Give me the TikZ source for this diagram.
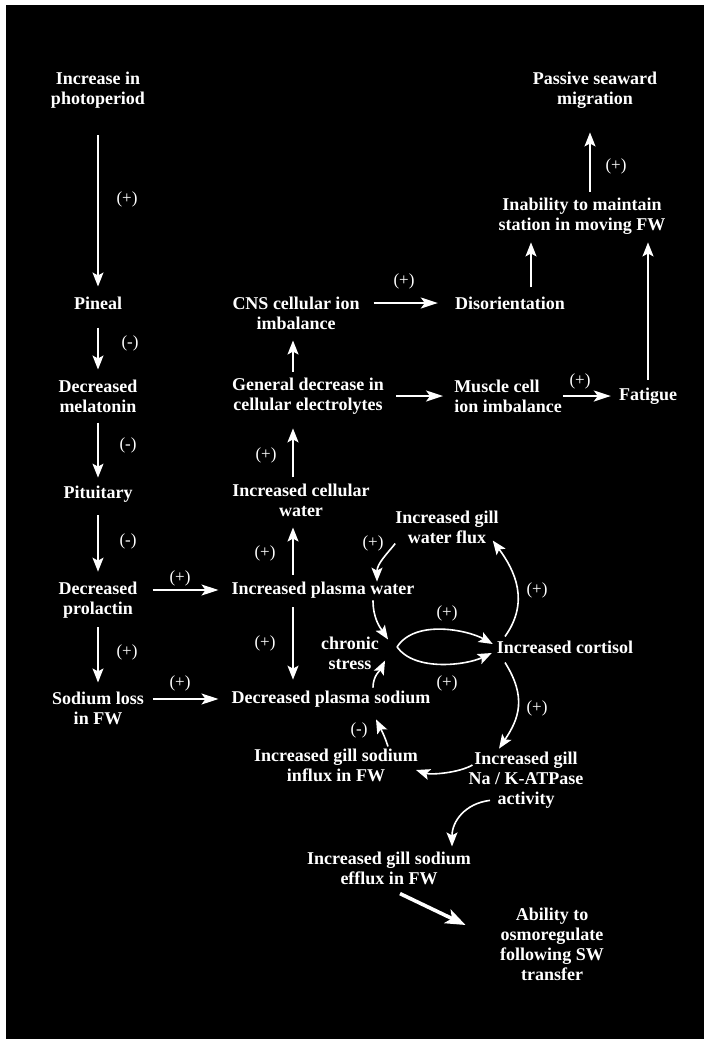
\documentclass[tikz,border=0pt]{standalone}
\usepackage{fontspec}
\setmainfont{Liberation Serif}
\usetikzlibrary{arrows.meta}

\begin{document}
\begin{tikzpicture}[
  x=1pt, y=-1pt,
  font=\bfseries\fontsize{18}{20}\selectfont,
  stage/.style={text=white, align=center, inner sep=0pt},
  sign/.style={text=white, inner sep=0pt, font=\fontsize{17}{20}\selectfont},
  flow/.style={-{Stealth[length=14pt,width=11pt,inset=3pt]}, draw=white, line width=1.6pt},
  thinflow/.style={flow, line width=1.2pt},
  sideflow/.style={-{Stealth[length=17pt,width=11pt,inset=4pt]}, draw=white, line width=1.8pt},
  bigflow/.style={-{Stealth[length=20pt,width=15pt,inset=5pt]}, draw=white, line width=3.6pt}
]
  \useasboundingbox (0,0) rectangle (704,1039);
  \fill[white] (0,0) rectangle (704,1039);
  \fill[black] (6,5) rectangle (704,1039);

  % left column
  \node[stage] (photo) at (98,90) {Increase in\\photoperiod};
  \node[stage] (pineal) at (98,303) {Pineal};
  \node[stage] (melat) at (98,396) {Decreased\\melatonin};
  \node[stage] (pitu) at (98,494) {Pituitary};
  \node[stage] (prol) at (98,600) {Decreased\\prolactin};
  \node[stage] (sodloss) at (98,708) {Sodium loss\\in FW};

  % middle column
  \node[stage] (cns) at (296,313) {CNS cellular ion\\imbalance};
  \node[stage] (general) at (308,396) {General decrease in\\cellular electrolytes};
  \node[stage] (cellw) at (301,500) {Increased cellular\\water};
  \node[stage] (plw) at (323,590) {Increased plasma water};
  \node[stage] (stress) at (350,653) {chronic\\stress};
  \node[stage] (pls) at (331,699) {Decreased plasma sodium};
  \node[stage] (influx) at (336,765) {Increased gill sodium\\influx in FW};
  \node[stage] (efflux) at (389,868) {Increased gill sodium\\efflux in FW};

  % right side
  \node[stage] (passive) at (595,90) {Passive seaward\\migration};
  \node[stage] (inab) at (582,216) {Inability to maintain\\station in moving FW};
  \node[stage] (disor) at (510,303) {Disorientation};
  \node[stage,align=left] (muscle) at (508,396) {Muscle cell\\ion imbalance};
  \node[stage] (fatigue) at (648,396) {Fatigue};
  \node[stage] (gillw) at (447,527) {Increased gill\\water flux};
  \node[stage] (cort) at (565,647) {Increased cortisol};
  \node[stage] (atpase) at (526,780) {Increased gill\\Na / K-ATPase\\activity};
  \node[stage] (ability) at (552,944) {Ability to\\osmoregulate\\following SW\\transfer};

  % signs
  \node[sign] (s1) at (127,199) {(+)};
  \node[sign] (s2) at (130,343) {(-)};
  \node[sign] (s3) at (128,445) {(-)};
  \node[sign] (s4) at (128,541) {(-)};
  \node[sign] (s5) at (127,652) {(+)};
  \node[sign] (s6) at (180,578) {(+)};
  \node[sign] (s7) at (180,683) {(+)};
  \node[sign] (s8) at (265,643) {(+)};
  \node[sign] (s9) at (265,553) {(+)};
  \node[sign] (s10) at (266,455) {(+)};
  \node[sign] (s11) at (404,281) {(+)};
  \node[sign] (s12) at (580,381) {(+)};
  \node[sign] (s13) at (616,166) {(+)};
  \node[sign] (s14) at (373,543) {(+)};
  \node[sign] (s15) at (537,590) {(+)};
  \node[sign] (s16) at (447,613) {(+)};
  \node[sign] (s17) at (447,683) {(+)};
  \node[sign] (s18) at (537,708) {(+)};
  \node[sign] (s19) at (359,730) {(-)};

  \coordinate (fork) at ([xshift=18pt,yshift=6pt]stress.east);

  \draw[thinflow, shorten <=27pt, shorten >=10pt] (photo.south) -- (pineal.north);
  \draw[thinflow, shorten <=18pt, shorten >=10pt] (pineal.south) -- (melat.north);
  \draw[thinflow, shorten <=10pt, shorten >=8pt] (melat.south) -- (pitu.north);
  \draw[thinflow, shorten <=13pt, shorten >=10pt] (pitu.south) -- (prol.north);
  \draw[thinflow, shorten <=9pt, shorten >=9pt] (prol.south) -- (sodloss.north);

  \draw[sideflow, shorten <=15pt, shorten >=13pt] (prol.east |- plw.west) -- (plw.west);
  \draw[sideflow, shorten <=9pt, shorten >=13pt] (sodloss.east |- pls.west) -- (pls.west);
  \draw[sideflow, shorten <=14pt, shorten >=17pt] (cns.east |- disor.west) -- (disor.west);
  \draw[sideflow, shorten <=12pt, shorten >=11pt] (general.east) -- (muscle.west);
  \draw[sideflow, shorten <=1pt, shorten >=8pt] (muscle.east) -- (fatigue.west);

  \draw[flow, shorten <=6pt, shorten >=11pt] ([xshift=-15pt]general.north) -- ([xshift=-3pt]cns.south);
  \draw[flow, shorten <=6pt, shorten >=14pt] ([xshift=-8pt]cellw.north) -- ([xshift=-15pt]general.south);
  \draw[flow, shorten <=7pt, shorten >=11pt] ([xshift=-30pt]plw.north) -- ([xshift=-8pt]cellw.south);
  \draw[flow, shorten <=9pt, shorten >=11pt] ([xshift=-30pt]plw.south) -- ([xshift=-38pt]pls.north);

  \draw[flow, shorten <=9pt, shorten >=8pt] ([xshift=21pt]disor.north) -- ([xshift=-51pt]inab.south);
  \draw[flow, shorten <=6pt, shorten >=24pt] ([xshift=8pt]inab.north) -- ([xshift=-5pt]passive.south);
  \draw[flow, shorten <=8pt, shorten >=8pt] (fatigue.north) -- (fatigue.north |- inab.south);

  % stress loop
  \draw[flow] (gillw.south west) .. controls +(-8,10) and +(0,-18) .. ([xshift=54pt]plw.north);
  \draw[flow] ([xshift=50pt,yshift=-2pt]plw.south) .. controls +(0,18) and +(-8,-12) .. ([xshift=9pt,yshift=-3pt]stress.north east);
  \draw[flow] ([xshift=42pt,yshift=3pt]pls.north) .. controls +(0,-12) and +(-5,10) .. ([xshift=6pt,yshift=9pt]stress.south east);
  \draw[flow] ([xshift=52pt,yshift=2pt]influx.north) .. controls +(-4,-12) and +(5,10) .. ([xshift=45pt,yshift=-12pt]pls.south);
  \draw[flow] (fork) .. controls +(18,-28) and +(-25,-14) .. ([xshift=-4pt,yshift=3pt]cort.west);
  \draw[flow] (fork) .. controls +(18,25) and +(-25,12) .. ([xshift=-5pt,yshift=-6pt]cort.west);
  \draw[flow] ([xshift=-60pt,yshift=4pt]cort.north) .. controls +(25,-35) and +(22,30) .. ([xshift=-6pt,yshift=3pt]gillw.south east);
  \draw[flow] ([xshift=-60pt,yshift=-9pt]cort.south) .. controls +(22,35) and +(20,-30) .. ([xshift=-27pt,yshift=3pt]atpase.north);
  \draw[flow] ([xshift=4pt,yshift=15pt]atpase.west) .. controls +(-14,8) and +(15,5) .. ([xshift=-2pt,yshift=-5pt]influx.east);
  \draw[flow] ([xshift=-36pt,yshift=8pt]atpase.south) .. controls +(-25,3) and +(0,-25) .. ([xshift=63pt,yshift=5pt]efflux.north);
  \draw[bigflow] ([xshift=11pt,yshift=-9pt]efflux.south) -- ([xshift=-34.5pt,yshift=19pt]ability.west);
\end{tikzpicture}
\end{document}
